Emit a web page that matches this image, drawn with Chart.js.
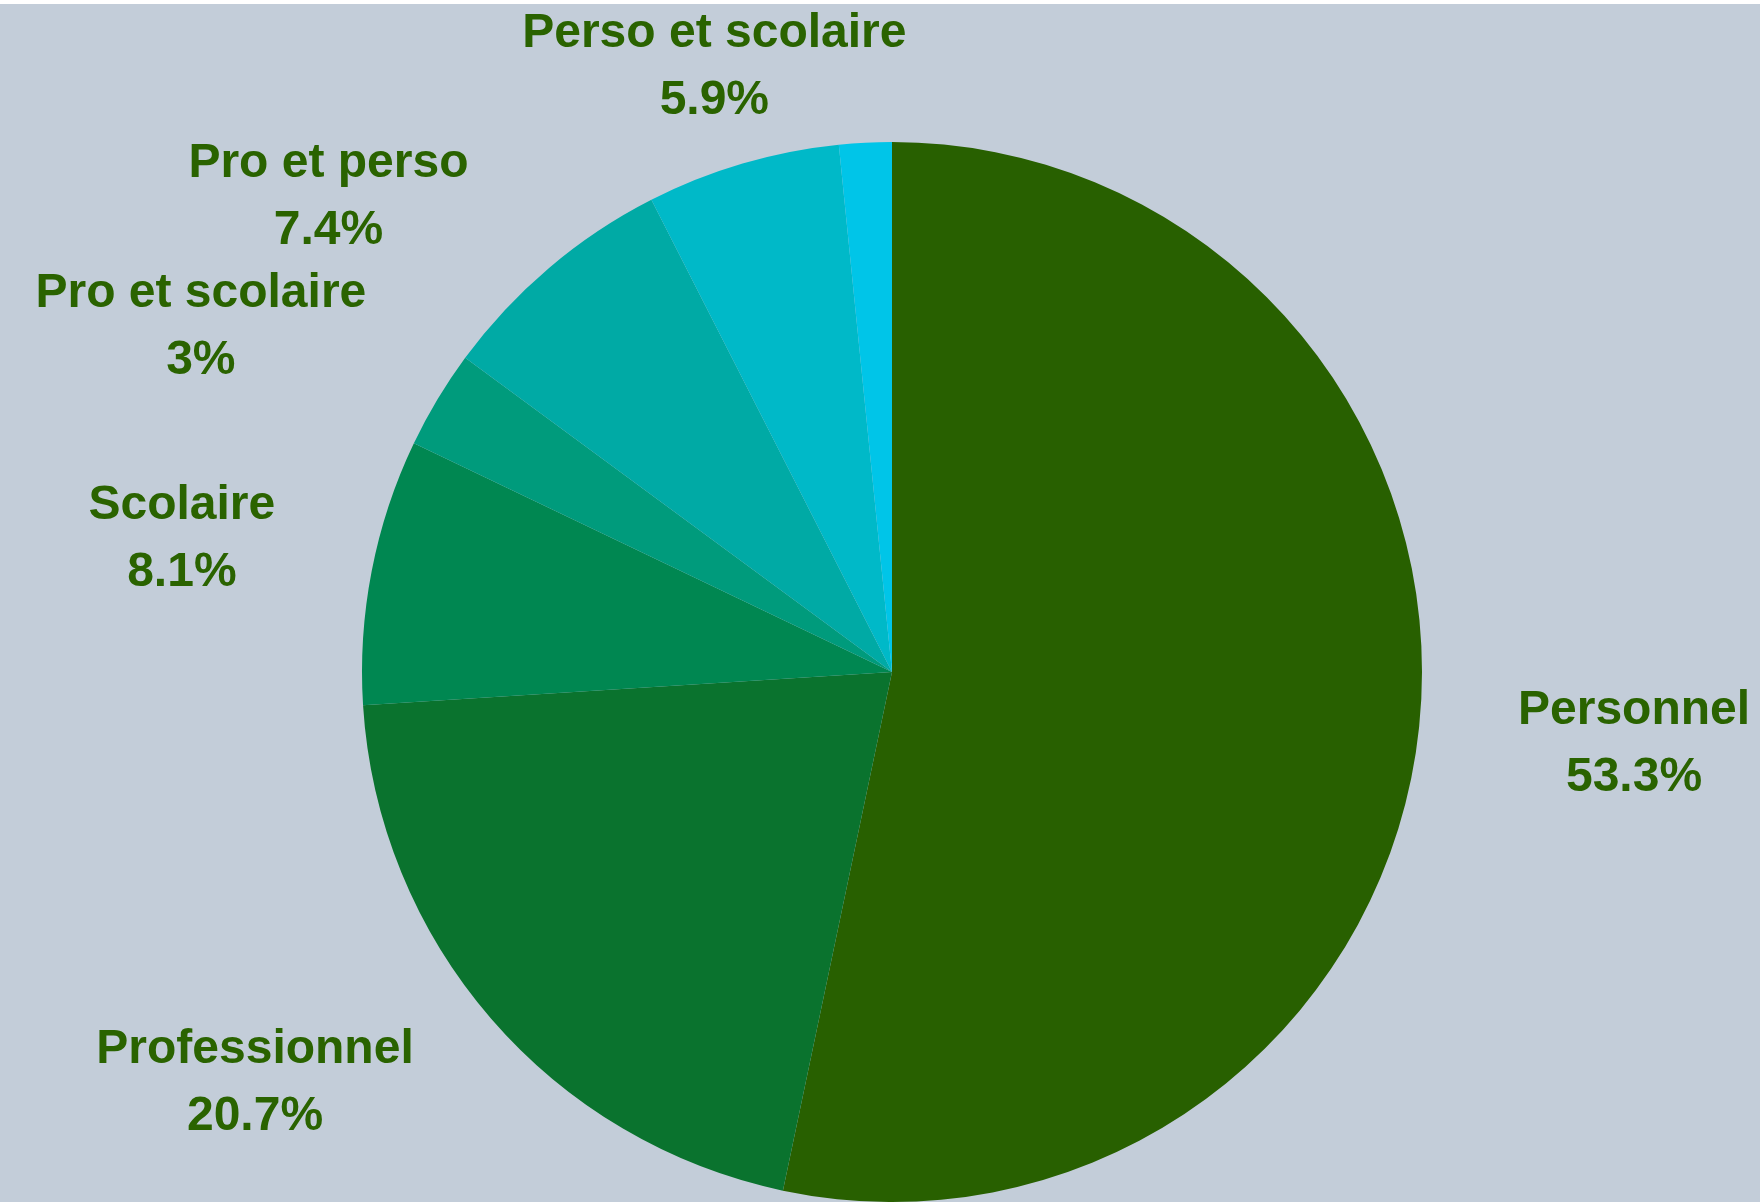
<!DOCTYPE html>
<html>
<head>
<meta charset="utf-8">
<script src="https://cdn.jsdelivr.net/npm/chart.js@4/dist/chart.umd.min.js"></script>
<style>
  html, body { margin: 0; padding: 0; background: #ffffff; }
  #wrap { width: 1760px; height: 1202px; }
</style>
</head>
<body>
<div id="wrap"><canvas id="pie" width="1760" height="1202"></canvas></div>
<script>
// usage categories, clockwise from 12 o'clock
const categories = ['Personnel', 'Professionnel', 'Scolaire', 'Pro et scolaire', 'Pro et perso', 'Perso et scolaire', ''];
const shares = [53.3, 20.7, 8.1, 3, 7.4, 5.9, 1.6];
const sliceColors = ['#286000', '#0a732e', '#008751', '#009b7c', '#00aaa5', '#00b9c8', '#00c5e8'];

const bgColor = '#c3cdd9';
const textColor = '#2a6300';

// background with the thin white strip on top
const background = {
    id: 'background',
    beforeDraw(chart) {
        const { ctx, width, height } = chart;
        ctx.save();
        ctx.fillStyle = '#ffffff';
        ctx.fillRect(0, 0, width, height);
        ctx.fillStyle = bgColor;
        ctx.fillRect(0, 4, width, height - 4);
        ctx.restore();
    }
};

// two-line labels outside the pie (name + percent)
const outsideLabels = {
    id: 'outsideLabels',
    afterDatasetsDraw(chart) {
        const { ctx, height } = chart;
        const meta = chart.getDatasetMeta(0);
        ctx.save();
        ctx.font = 'bold 48px "Liberation Sans", Arial, sans-serif';
        const lineH = 67;
        const h = lineH * 2;
        const minStep = h - 4;
        const gap = 100;
        const bottomLimit = height - 52;
        const items = [];

        meta.data.forEach((arc, i) => {
            const name = categories[i];
            if (!name) return;
            const p = arc.getProps(['x', 'y', 'startAngle', 'endAngle', 'outerRadius'], true);
            const mid = (p.startAngle + p.endAngle) / 2;
            const lines = [name, shares[i] + '%'];
            const w = Math.max(...lines.map(t => ctx.measureText(t).width));
            const reach = p.outerRadius + gap;
            items.push({
                lines, w, reach, mid,
                x0: p.x, y0: p.y,
                cx: p.x + Math.cos(mid) * (reach + w / 2),
                cy: p.y + Math.sin(mid) * (reach + h / 2),
                side: Math.cos(mid) < 0 ? -1 : 1,
                pinned: false,
                moved: false
            });
        });

        // keep inside the picture
        items.forEach(it => {
            if (it.cy - h / 2 < 0) {
                // hits the top edge: sit on the anchor point, centred
                it.cy = h / 2;
                it.cx = it.x0 + Math.cos(it.mid) * it.reach;
                it.pinned = true;
            }
            if (it.cy + h / 2 > bottomLimit) { it.cy = bottomLimit - h / 2; it.moved = true; }
        });

        // push apart labels that collide on the same side
        [-1, 1].forEach(side => {
            const group = items.filter(it => it.side === side).sort((a, b) => a.cy - b.cy);
            for (let k = 1; k < group.length; k++) {
                const prev = group[k - 1];
                const cur = group[k];
                const overlapX = Math.abs(prev.cx - cur.cx) < (prev.w + cur.w) / 2;
                if (overlapX && cur.cy < prev.cy + minStep) {
                    cur.cy = prev.cy + minStep;
                    cur.moved = true;
                }
            }
        });

        // slide moved labels round the pie
        items.forEach(it => {
            if (!it.moved || it.pinned) return;
            let s = (it.cy - it.y0) / (it.reach + h / 2);
            s = Math.max(-1, Math.min(1, s));
            it.cx = it.x0 + it.side * Math.sqrt(1 - s * s) * (it.reach + it.w / 2);
        });

        ctx.fillStyle = textColor;
        ctx.textAlign = 'center';
        ctx.textBaseline = 'middle';
        items.forEach(it => {
            ctx.fillText(it.lines[0], it.cx, it.cy - lineH / 2);
            ctx.fillText(it.lines[1], it.cx, it.cy + lineH / 2);
        });
        ctx.restore();
    }
};

new Chart(document.getElementById('pie'), {
    type: 'pie',
    data: {
        labels: categories,
        datasets: [{
            data: shares,
            backgroundColor: sliceColors,
            borderWidth: 0
        }]
    },
    options: {
        responsive: false,
        animation: false,
        layout: {
            padding: { left: 362, right: 338, top: 142, bottom: 0 }
        },
        plugins: {
            legend: { display: false },
            tooltip: { enabled: false }
        }
    },
    plugins: [background, outsideLabels]
});
</script>
</body>
</html>
